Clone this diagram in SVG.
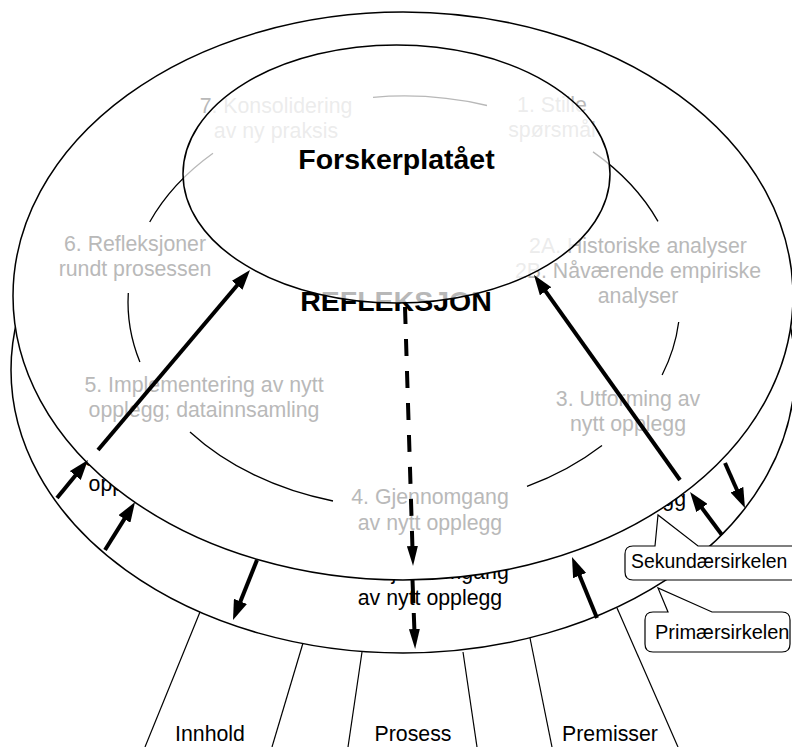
<svg xmlns="http://www.w3.org/2000/svg" width="792" height="747" viewBox="0 0 792 747">
<style>
.disc{fill:#fff;stroke:#000;stroke-width:1.5}
.cyc{fill:none;stroke:#000;stroke-width:1.3}
.t{font-family:"Liberation Sans",Arial,sans-serif;font-size:21.3px;text-anchor:middle}
.g{fill:#b9b9b9}
.k{fill:#000}
.b{font-family:"Liberation Sans",Arial,sans-serif;font-size:28.5px;font-weight:bold;text-anchor:middle;fill:#000}
.c{font-family:"Liberation Sans",Arial,sans-serif;font-size:20px;fill:#000}
.arr{fill:none;stroke:#000;stroke-width:4;marker-end:url(#ah)}
.dash{fill:none;stroke:#000;stroke-width:4;stroke-dasharray:17 15;marker-end:url(#ahn)}
.col{fill:none;stroke:#000;stroke-width:1.2}
.call{fill:#fff;stroke:#000;stroke-width:1.2}
</style>
<defs>
<marker id="ah" viewBox="0 0 20 14" markerWidth="20" markerHeight="14" refX="6" refY="7" orient="auto" markerUnits="userSpaceOnUse"><path d="M0,0 L20,7 L0,14 Z" fill="#000"/></marker>
<marker id="ahn" viewBox="0 0 20 11" markerWidth="20" markerHeight="11" refX="6" refY="5.5" orient="auto" markerUnits="userSpaceOnUse"><path d="M0,0 L20,5.5 L0,11 Z" fill="#000"/></marker>
</defs>

<g id="columns">
<line class="col" x1="200" y1="612" x2="145" y2="747"/>
<line class="col" x1="303" y1="643" x2="272" y2="747"/>
<line class="col" x1="362" y1="652" x2="348" y2="747"/>
<line class="col" x1="463" y1="652" x2="477" y2="747"/>
<line class="col" x1="530" y1="638" x2="552" y2="747"/>
<line class="col" x1="617" y1="608" x2="678" y2="747"/>
<text class="t k" x="210" y="741">Innhold</text>
<text class="t k" x="413" y="741">Prosess</text>
<text class="t k" x="610" y="741">Premisser</text>
</g>

<g id="primary-circle">
<ellipse class="disc" cx="403" cy="370" rx="392" ry="283"/>
<text class="t k" x="204" y="466">5. Implementering av nytt</text>
<text class="t k" x="204" y="491">opplegg; datainnsamling</text>
<text class="t k" x="628" y="481">3. Utforming av</text>
<text class="t k" x="628" y="506">nytt opplegg</text>
<text class="t k" x="430" y="579">4. Gjennomgang</text>
<text class="t k" x="430" y="605">av nytt opplegg</text>
</g>

<g id="secondary-circle">
<ellipse class="disc" cx="403" cy="296" rx="390" ry="284"/>
<path class="cyc" d="M373,97.3 A276,206 0 0 1 487,105.5"/>
<path class="cyc" d="M593,151.9 A276,206 0 0 1 658,221.4"/>
<path class="cyc" d="M678.7,322 A276,206 0 0 1 662.1,375"/>
<path class="cyc" d="M602,445.5 A276,206 0 0 1 527,486.4"/>
<path class="cyc" d="M333,501 A276,206 0 0 1 190,432"/>
<path class="cyc" d="M139.9,362 A276,206 0 0 1 128.3,293"/>
<path class="cyc" d="M149.7,222 A276,206 0 0 1 213,153.3"/>
<text class="t g" x="276" y="113">7. Konsolidering</text>
<text class="t g" x="276" y="138">av ny praksis</text>
<text class="t g" x="552" y="112">1. Stille</text>
<text class="t g" x="552" y="137">spørsmål</text>
<text class="t g" x="135" y="251">6. Refleksjoner</text>
<text class="t g" x="135" y="276">rundt prosessen</text>
<text class="t g" x="638" y="253">2A. Historiske analyser</text>
<text class="t g" x="638" y="278">2B. Nåværende empiriske</text>
<text class="t g" x="638" y="303">analyser</text>
<text class="t g" x="628" y="406">3. Utforming av</text>
<text class="t g" x="628" y="431">nytt opplegg</text>
<text class="t g" x="204" y="392">5. Implementering av nytt</text>
<text class="t g" x="204" y="417">opplegg; datainnsamling</text>
<text class="t g" x="430" y="504">4. Gjennomgang</text>
<text class="t g" x="430" y="530">av nytt opplegg</text>
<text class="b" x="396" y="311">REFLEKSJON</text>
</g>

<g id="forskerplataet">
<ellipse cx="396.5" cy="174" rx="213.5" ry="129" fill="#fff" fill-opacity="0.72" stroke="#000" stroke-width="1.5"/>
<text class="b" x="396.5" y="169">Forskerplatået</text>
</g>

<g id="connectors">
<line class="arr" x1="98" y1="450" x2="241" y2="280.7"/>
<line class="arr" x1="680" y1="480" x2="542.1" y2="286.4"/>
<line class="dash" x1="405" y1="307" x2="412.6" y2="552"/>
<line x1="412.5" y1="580" x2="414.6" y2="635" stroke="#000" stroke-width="4" stroke-dasharray="23 10 100" marker-end="url(#ahn)"/>
<line class="arr" x1="57" y1="498" x2="79.1" y2="470.9"/>
<line class="arr" x1="105" y1="550" x2="127.6" y2="513.9"/>
<line class="arr" x1="257" y1="560" x2="238.2" y2="607"/>
<line class="arr" x1="597" y1="618" x2="577.3" y2="570"/>
<line class="arr" x1="722" y1="535" x2="698.4" y2="503.2"/>
<line class="arr" x1="725" y1="463" x2="739.3" y2="495.2"/>
</g>

<g id="callout-sekundaer">
<path class="call" d="M633,546 L655,546 L658,515 L698,546 L800,546 L800,580 L633,580 Q625,580 625,572 L625,554 Q625,546 633,546 Z"/>
<text class="c" x="631" y="568" style="font-size:19.4px">Sekundærsirkelen</text>
</g>

<g id="callout-primaer">
<path class="call" d="M653,612 L668,612 L658,588 L712,612 L782,612 Q790,612 790,620 L790,644 Q790,652 782,652 L653,652 Q645,652 645,644 L645,620 Q645,612 653,612 Z"/>
<text class="c" x="655" y="639">Primærsirkelen</text>
</g>
</svg>
